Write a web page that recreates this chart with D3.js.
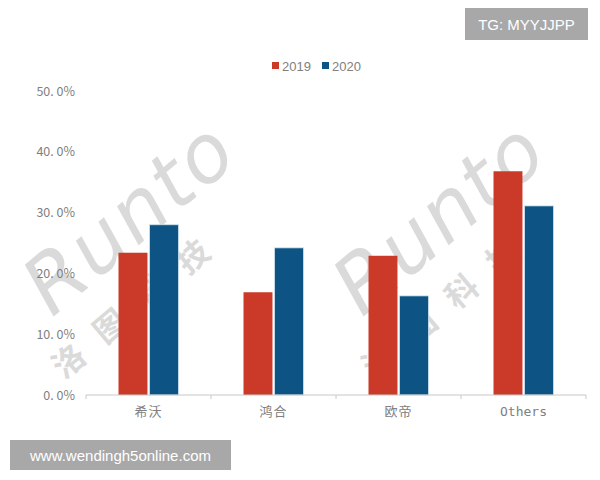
<!DOCTYPE html>
<html><head><meta charset="utf-8">
<script src="https://cdn.jsdelivr.net/npm/d3@7"></script>
<style>
html,body{margin:0;padding:0;background:#fff;}
svg{display:block;}
</style></head>
<body>
<svg id="c" width="600" height="480"></svg>
<script>
const categories = ["希沃", "鸿合", "欧帝", "Others"];
const seriesNames = ["2019", "2020"];
const values2019 = [0.234, 0.169, 0.229, 0.368];
const values2020 = [0.280, 0.242, 0.163, 0.311];
const yTicks = [0, 0.1, 0.2, 0.3, 0.4, 0.5];
const colors = ["#CB3A29", "#0D5383"];

const svg = d3.select("#c");
const margin = {left: 86, right: 14, top: 91, bottom: 85};
const W = 600, H = 480;

const x = d3.scaleBand().domain(categories).range([margin.left, W - margin.right]).paddingInner(0).paddingOuter(0);
const y = d3.scaleLinear().domain([0, 0.5]).range([H - margin.bottom, margin.top]);

// watermark
const wm = svg.append("g").attr("fill", "#d2d2d2").attr("font-family", "DejaVu Sans, sans-serif");
[[52, 318], [362, 318]].forEach(p => {
  wm.append("text").attr("transform", `translate(${p[0]},${p[1]}) rotate(-40)`)
    .attr("font-size", 80).attr("font-style", "italic").attr("letter-spacing", 2).attr("opacity", 0.8).text("Runto");
  wm.append("text").attr("transform", `translate(${p[0] + 12},${p[1] + 62}) rotate(-40)`)
    .attr("font-family", "Noto Sans CJK SC").attr("font-size", 32).attr("font-weight", "bold").attr("letter-spacing", 22).attr("opacity", 0.8).text("洛图科技");
});

// bars: 29px wide, 2px gap, centred in each band
const inner = d3.scaleBand().domain(seriesNames).range([-30, 30]).paddingInner(0.067).paddingOuter(0);
const series = [values2019, values2020];
series.forEach((vals, si) => {
  svg.append("g").selectAll("rect").data(categories).join("rect")
    .attr("x", d => x(d) + x.bandwidth() / 2 + inner(seriesNames[si]))
    .attr("width", inner.bandwidth())
    .attr("y", (d, i) => y(vals[i]))
    .attr("height", (d, i) => y(0) - y(vals[i]))
    .attr("fill", colors[si])
    .attr("stroke", si === 1 ? "#cfe3f0" : "none")
    .attr("stroke-width", 0.8);
});

// y axis labels
const yAxis = d3.axisLeft(y).tickValues(yTicks).tickFormat(d => d3.format(".1f")(d * 100).replace(".", ". ") + "%").tickSize(0).tickPadding(11);
const gy = svg.append("g").attr("transform", `translate(${margin.left},0)`).call(yAxis);
gy.select(".domain").remove();
gy.selectAll("text").attr("fill", "#808080").attr("font-size", 12.5)
  .attr("font-family", "'Noto Sans CJK SC', sans-serif");

// x axis
const xAxis = d3.axisBottom(x).tickSize(0).tickPadding(12);
const gx = svg.append("g").attr("transform", `translate(0,${y(0)})`).call(xAxis);
gx.select(".domain").attr("stroke", "#c8c8c8").attr("d", `M${margin.left},0H${W - margin.right}`);
gx.selectAll("text").attr("fill", "#808080").attr("font-size", 13)
  .attr("font-family", d => d === "Others" ? "'DejaVu Sans Mono', monospace" : "'Noto Sans CJK SC', sans-serif")
  .attr("letter-spacing", d => d === "Others" ? 0 : 1);
const bounds = categories.map(c => x(c)).concat([x(categories[categories.length - 1]) + x.bandwidth()]);
gx.append("g").selectAll("line").data(bounds).join("line")
  .attr("x1", d => d).attr("x2", d => d).attr("y1", 0).attr("y2", 4).attr("stroke", "#c8c8c8");

// legend
const lg = svg.append("g").attr("transform", "translate(272,66)");
seriesNames.forEach((s, i) => {
  const g = lg.append("g").attr("transform", `translate(${i * 50},0)`);
  g.append("rect").attr("x", 0).attr("y", -4).attr("width", 7).attr("height", 7).attr("fill", colors[i]);
  g.append("text").attr("x", 10).attr("y", 5).attr("font-size", 13).attr("fill", "#808080")
    .attr("font-family", "'Liberation Sans', Arial, sans-serif").text(s);
});

// badges
svg.append("rect").attr("x", 465).attr("y", 8).attr("width", 123).attr("height", 32).attr("fill", "#a8a8a8");
svg.append("text").attr("x", 526.5).attr("y", 29.5).attr("text-anchor", "middle").attr("fill", "#fff")
  .attr("font-size", 15).attr("font-family", "'Liberation Sans', Arial, sans-serif").text("TG: MYYJJPP");
svg.append("rect").attr("x", 10).attr("y", 440).attr("width", 221).attr("height", 30).attr("fill", "#a8a8a8");
svg.append("text").attr("x", 120.5).attr("y", 460.5).attr("text-anchor", "middle").attr("fill", "#fff")
  .attr("font-size", 15).attr("font-family", "'Liberation Sans', Arial, sans-serif").text("www.wendingh5online.com");
</script>
</body></html>
